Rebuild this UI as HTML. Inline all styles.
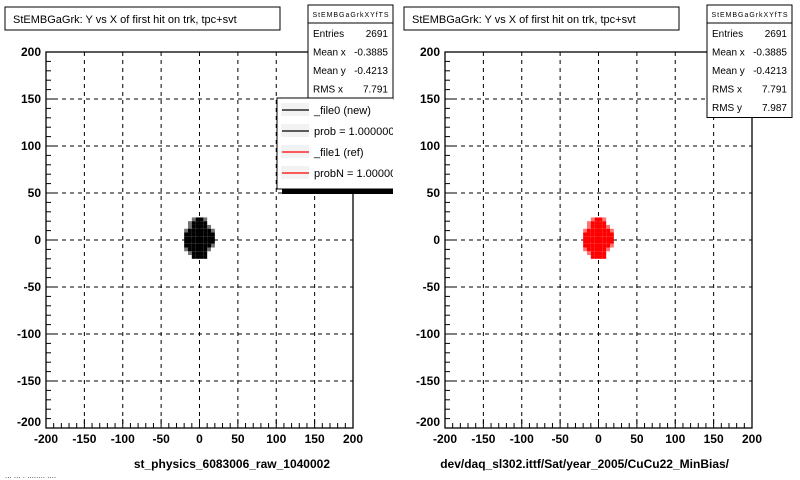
<!DOCTYPE html>
<html><head><meta charset="utf-8"><style>
html,body{margin:0;padding:0;background:#fff;}
svg{display:block;font-family:"Liberation Sans",Arial,sans-serif;}
</style></head><body>
<svg id="c" width="800" height="480" viewBox="0 0 800 480" xmlns="http://www.w3.org/2000/svg">
<rect width="800" height="480" fill="#fff"/>
<defs><clipPath id="lclip"><rect x="270" y="90" width="123" height="110"/></clipPath></defs>
</svg>
<script>
const xTicks=[-200,-150,-100,-50,0,50,100,150,200];
const yTicks=[-200,-150,-100,-50,0,50,100,150,200];
const binX=[-25,-20,-15,-10,-5,0,5,10,15,20]; // left edges, width 5
const binY=[20,16,12,8,4,0,-4,-8,-12,-16,-20]; // bottom edges, height 4
const density=[
[0,0,0,1,2,2,1,0,0,0],
[0,0,1,2,2,2,2,0,0,0],
[0,0,1,2,2,2,2,1,0,0],
[0,1,2,2,2,2,2,2,1,0],
[0,2,2,2,2,2,2,2,2,0],
[0,2,2,2,2,2,2,2,2,0],
[0,2,2,2,2,2,2,2,2,0],
[0,2,2,2,2,2,2,2,1,0],
[0,1,2,2,2,2,2,1,0,0],
[0,0,1,2,2,2,2,0,0,0],
[0,0,0,2,2,2,2,0,0,0]];
const statsLabels=["Entries","Mean x","Mean y","RMS x","RMS y"];
const statsValues=["2691","-0.3885","-0.4213","7.791","7.987"];
const legendLabels=["_file0 (new)","prob = 1.000000","_file1 (ref)","probN = 1.000000"];
const legendColors=["#000","#000","#f00","#f00"];
const NS="http://www.w3.org/2000/svg";
const svg=document.getElementById('c');
function el(tag,attrs,parent){const e=document.createElementNS(NS,tag);for(const k in attrs)e.setAttribute(k,attrs[k]);(parent||svg).appendChild(e);return e;}
function txt(s,attrs,parent){const e=el('text',attrs,parent);e.textContent=s;return e;}

function panel(x0,color,title,xtitle,name,statsRows){
  const L=x0,R=x0+307,T=52,B=428;
  const sx=v=>L+(v+200)/400*(R-L);
  const sy=v=>B-(v+200)/400*(B-T);
  const g=el('g',{});
  
  
  xTicks.forEach(v=>{if(v>-200&&v<200){const l=el('line',{x1:sx(v),x2:sx(v),y1:T,y2:B,stroke:'#000','stroke-dasharray':'4,4','stroke-width':1},g);}});
  yTicks.forEach(v=>{if(v>-200&&v<200){const l=el('line',{x1:L,x2:R,y1:sy(v),y2:sy(v),stroke:'#000','stroke-dasharray':'4,4','stroke-width':1},g);}});
  const dg=el('g',{},g);
  
  
  density.forEach((row,i)=>row.forEach((d,j)=>{if(d>0){
    const x1=sx(binX[j]),x2=sx(binX[j]+5),y1=sy(binY[i]+4),y2=sy(binY[i]);
    const r=el('rect',{x:x1,y:y1,width:x2-x1,height:y2-y1,fill:color,opacity:d==2?1:0.55},dg);
    
    
  }}));
  const fr=el('rect',{x:L,y:T,width:R-L,height:B-T,fill:'none',stroke:'#000','stroke-width':1.3},g);
  
  
  for(let v=-200;v<=200;v+=10){
    const major=v%50==0;const len=major?9:5;
    el('line',{x1:sx(v),x2:sx(v),y1:B,y2:B-len,stroke:'#000'},g);
    el('line',{x1:L,x2:L+len,y1:sy(v),y2:sy(v),stroke:'#000'},g);
  }
  xTicks.forEach(v=>{const t=txt(String(v),{x:sx(v),y:443,'text-anchor':'middle','font-size':12,'font-weight':'bold'},g);});
  yTicks.forEach(v=>{const t=txt(String(v),{x:L-5,y:sy(v)+(v==-200?-2:4),'text-anchor':'end','font-size':12,'font-weight':'bold'},g);});
  const xt=txt(xtitle,{x:R-23,y:468,'text-anchor':'end','font-size':12,'font-weight':'bold'},g);
  
  
  const tb=el('g',{},g);
  
  
  el('rect',{x:L-41,y:7,width:275,height:23,fill:'#fff',stroke:'#000'},tb);
  txt(title,{x:L-33,y:23,'font-size':11},tb);
  const sb=el('g',{},g);
  
  
  const sxL=L+262,sw=85;
  el('rect',{x:sxL,y:5,width:sw,height:18+statsRows*18.5+2,fill:'#fff',stroke:'#000'},sb);
  txt('StEMBGaGrkXYfTS',{x:sxL+sw/2,y:17,'text-anchor':'middle','font-size':7,'textLength':76},sb);
  el('line',{x1:sxL,x2:sxL+sw,y1:23,y2:23,stroke:'#000'},sb);
  for(let i=0;i<statsRows;i++){
    const y=37+i*18.5;
    txt(statsLabels[i],{x:sxL+5,y:y,'font-size':10},sb);
    txt(statsValues[i],{x:sxL+sw-5,y:y,'text-anchor':'end','font-size':10},sb);
  }
}
panel(46,'#000','StEMBGaGrk: Y vs X of first hit on trk, tpc+svt','st_physics_6083006_raw_1040002','left-panel',4);
panel(445,'#f00','StEMBGaGrk: Y vs X of first hit on trk, tpc+svt','dev/daq_sl302.ittf/Sat/year_2005/CuCu22_MinBias/','right-panel',5);
const lg=el('g',{'clip-path':'url(#lclip)'});


el('rect',{x:282,y:189,width:114,height:5,fill:'#000'},lg);
el('rect',{x:277,y:98,width:118,height:91,fill:'#fff',stroke:'#000'},lg);
legendLabels.forEach((s,i)=>{
  const y=110+i*21;
  const e=el('g',{},lg);
  
  
  el('rect',{x:281,y:y-7,width:28,height:13,fill:'#f2f2f2'},e);
  el('line',{x1:282,x2:309,y1:y,y2:y,stroke:legendColors[i],'stroke-width':1.2},e);
  txt(s,{x:314,y:y+4,'font-size':11},e);
});
const ft=txt('... ... . ........ ....',{x:5,y:478,'font-size':8,fill:'#444'});


</script>
</body></html>
